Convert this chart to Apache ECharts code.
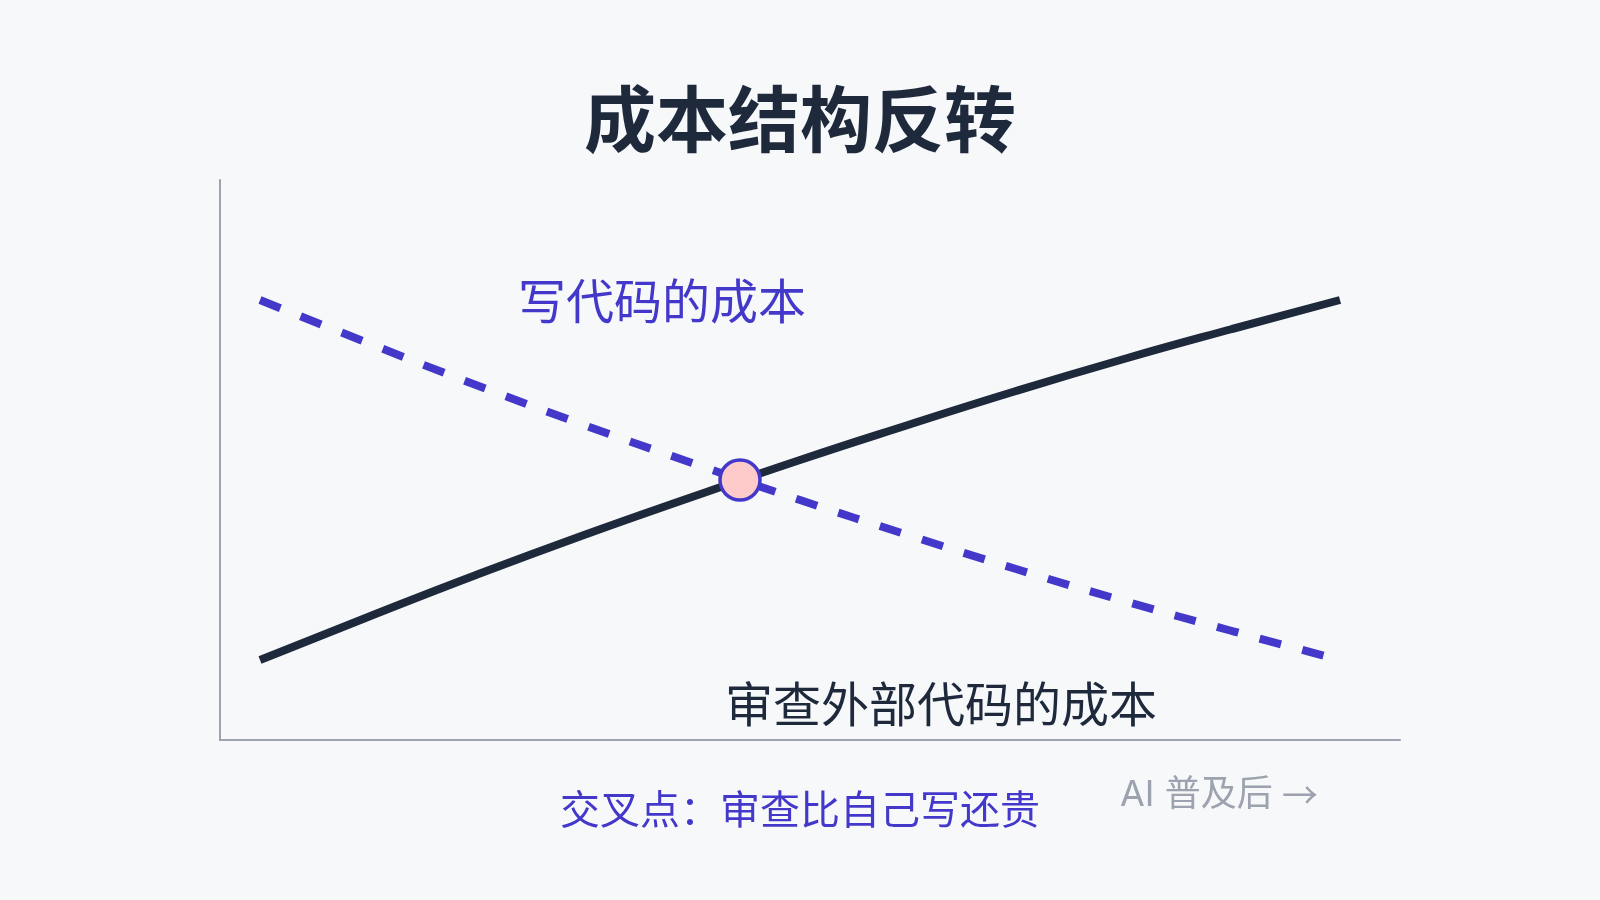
<!DOCTYPE html>
<html>
<head>
<meta charset="utf-8">
<title>成本结构反转</title>
<script src="https://cdn.jsdelivr.net/npm/echarts@6.0.0/dist/echarts.min.js"></script>
<style>
  html, body { margin: 0; padding: 0; background: #f7f8fa; }
  #chart { width: 1600px; height: 900px; }
</style>
</head>
<body>
<div id="chart"></div>
<script>
// 横轴：时间推移（AI 普及程度），单位随意
var timeX = [4, 14.8, 25.6, 36.4, 47.2, 58, 68.8, 79.6, 90.4, 101.2, 112];
// 写代码的成本（虚线，逐渐下降）
var writeCost = [44, 39.7, 35.5, 31.5, 27.7, 24, 20.5, 17.1, 13.9, 10.9, 8];
// 审查外部代码的成本（实线，逐渐上升）
var reviewCost = [8, 12.3, 16.5, 20.5, 24.3, 28, 31.5, 34.9, 38.1, 41.1, 44];
// 交叉点
var crossPoint = [52, 26];

var titleText = '成本结构反转';
var writeLabel = '写代码的成本';
var reviewLabel = '审查外部代码的成本';
var crossLabel = '交叉点：审查比自己写还贵';
var axisNote = 'AI 普及后';
var axisArrow = '→';

var FONT = '"Noto Sans CJK SC", "Noto Sans", sans-serif';

function pairs(xs, ys) {
  var out = [];
  for (var i = 0; i < xs.length; i++) {
    out.push([xs[i], ys[i]]);
  }
  return out;
}

var myChart = echarts.init(document.getElementById('chart'));
var option = {
  backgroundColor: '#f7f8fa',
  animation: false,
  title: {
    text: titleText,
    left: 'center',
    top: 78,
    textStyle: {
      fontFamily: FONT,
      fontSize: 72,
      fontWeight: 'bold',
      color: '#1e293b'
    }
  },
  grid: { left: 220, right: 200, top: 180, bottom: 160 },
  xAxis: {
    type: 'value',
    min: 0,
    max: 118,
    axisLine: { show: true, lineStyle: { color: '#9ca3af', width: 2 } },
    axisTick: { show: false },
    axisLabel: { show: false },
    splitLine: { show: false }
  },
  yAxis: {
    type: 'value',
    min: 0,
    max: 56,
    axisLine: { show: true, lineStyle: { color: '#9ca3af', width: 2 } },
    axisTick: { show: false },
    axisLabel: { show: false },
    splitLine: { show: false }
  },
  series: [
    {
      name: writeLabel,
      type: 'line',
      data: pairs(timeX, writeCost),
      smooth: true,
      showSymbol: false,
      lineStyle: { color: '#4338ca', width: 8, type: [22, 22], cap: 'butt' },
      z: 2
    },
    {
      name: reviewLabel,
      type: 'line',
      data: pairs(timeX, reviewCost),
      smooth: true,
      showSymbol: false,
      lineStyle: { color: '#1e293b', width: 8, cap: 'butt' },
      z: 3
    },
    {
      name: '交叉点',
      type: 'scatter',
      data: [crossPoint],
      symbol: 'circle',
      symbolSize: 40,
      itemStyle: { color: '#fecaca', borderColor: '#4338ca', borderWidth: 3.5, opacity: 1 },
      z: 5
    }
  ],
  graphic: [
    {
      type: 'text', left: 518, top: 277,
      style: { text: writeLabel, fill: '#4338ca', font: '48px ' + FONT }
    },
    {
      type: 'text', left: 725, top: 680,
      style: { text: reviewLabel, fill: '#1e293b', font: '48px ' + FONT }
    },
    {
      type: 'text', left: 560, top: 789,
      style: { text: crossLabel, fill: '#4338ca', font: '40px ' + FONT }
    },
    {
      type: 'text', left: 1120, top: 777,
      style: { text: axisNote, fill: '#9ca3af', font: '36px Inter, ' + FONT }
    },
    {
      type: 'text', left: 1282, top: 777,
      style: { text: axisArrow, fill: '#9ca3af', font: '36px ' + FONT }
    }
  ]
};
myChart.setOption(option);
</script>
</body>
</html>
